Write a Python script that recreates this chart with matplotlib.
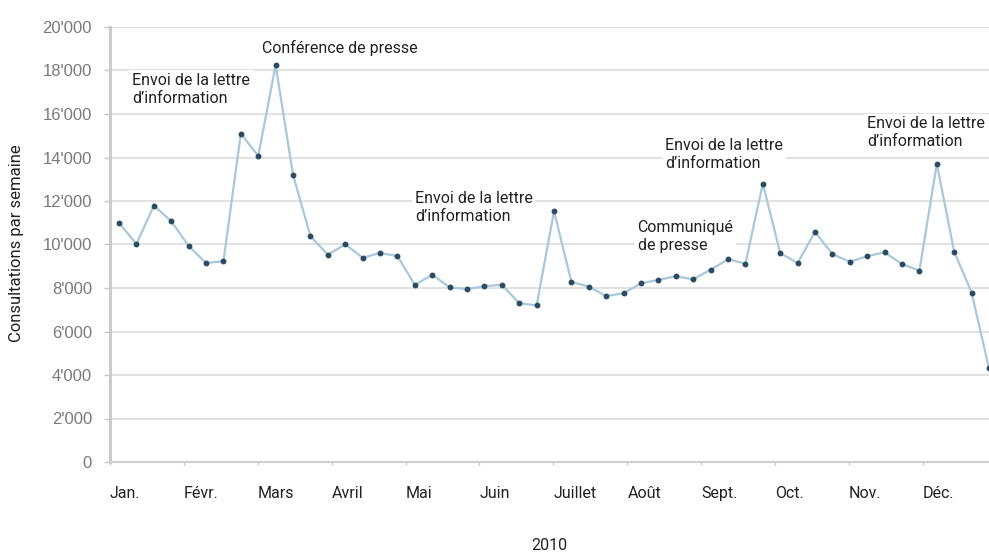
import numpy as np
import matplotlib
matplotlib.use("Agg")
import matplotlib.pyplot as plt
from matplotlib.ticker import FuncFormatter

# weekly visits, 2010
visits = [11000, 10020, 11790, 11070, 9930, 9150, 9230, 15100, 14070, 18250,
          13200, 10390, 9530, 10010, 9390, 9610, 9470, 8140, 8610, 8030,
          7950, 8080, 8150, 7300, 7200, 11530, 8280, 8060, 7630, 7760,
          8220, 8370, 8540, 8400, 8840, 9320, 9120, 12800, 9600, 9150,
          10580, 9560, 9210, 9460, 9640, 9100, 8800, 13700, 9670, 7790,
          4300]
months = ["Jan.", "Févr.", "Mars", "Avril", "Mai", "Juin", "Juillet",
          "Août", "Sept.", "Oct.", "Nov.", "Déc."]
yticks = list(range(0, 20001, 2000))

# annotations: (week, value, text)
notes = [
    (0.75, 17130, "Envoi de la lettre\nd’information"),
    (8.2, 19040, "Conférence de presse"),
    (17.0, 11700, "Envoi de la lettre\nd’information"),
    (29.8, 10350, "Communiqué\nde presse"),
    (31.4, 14160, "Envoi de la lettre\nd’information"),
    (43.0, 15130, "Envoi de la lettre\nd’information"),
]

plt.rcParams['font.family'] = ['Roboto', 'DejaVu Sans']

fig = plt.figure(figsize=(9.89, 5.54), dpi=100)
ax = fig.add_axes([110/989, 1-462/554, 1-110/989, (462-27)/554])

weeks = np.arange(len(visits))
ax.plot(weeks, visits, color="#a9c8da", lw=1.6, zorder=3,
        marker="o", markersize=3.2, markerfacecolor="#2b4b60",
        markeredgecolor="#2b4b60")

ax.set_xlim(-0.52, 50.0)
ax.set_ylim(0, 20000)

ax.set_yticks(yticks)
ax.yaxis.set_major_formatter(FuncFormatter(lambda v, p: f"{int(v):,}".replace(",", "'")))
ax.grid(axis="y", color="#e2e2e2", lw=1.5, zorder=0)
ax.tick_params(axis="y", length=4, width=1, color="#c8c8c8", pad=9,
               labelsize=12, labelcolor="#7a7a7a")
for lab in ax.get_yticklabels():
    lab.set_family(['Liberation Sans', 'DejaVu Sans'])

month_pos = [-0.52 + 4.247 * m for m in range(12)]
ax.set_xticks(month_pos)
ax.set_xticklabels(months, ha="left")
ax.tick_params(axis="x", length=2, width=1, color="#c8c8c8", pad=15,
               labelsize=11.5, labelcolor="#222222")

for s in ["top", "right"]:
    ax.spines[s].set_visible(False)
ax.spines["left"].set_color("#c8c8c8")
ax.spines["left"].set_linewidth(2)
ax.spines["bottom"].set_color("#d0d0d0")
ax.spines["bottom"].set_linewidth(1.5)

fig.text(17/989, 1-243/554, "Consultations par semaine", fontsize=12,
         color="#222222", rotation=90, ha="center", va="center")

for x, y, t in notes:
    ax.text(x, y, t, fontsize=11.5, color="#222222", va="center", ha="left",
            linespacing=1.25, zorder=4,
            bbox=dict(facecolor="white", edgecolor="none", pad=2))

fig.text(549/989, 1-545/554, "2010", fontsize=11.5, color="#222222",
         ha="center", va="center")

fig.savefig("out.png", dpi=100)
